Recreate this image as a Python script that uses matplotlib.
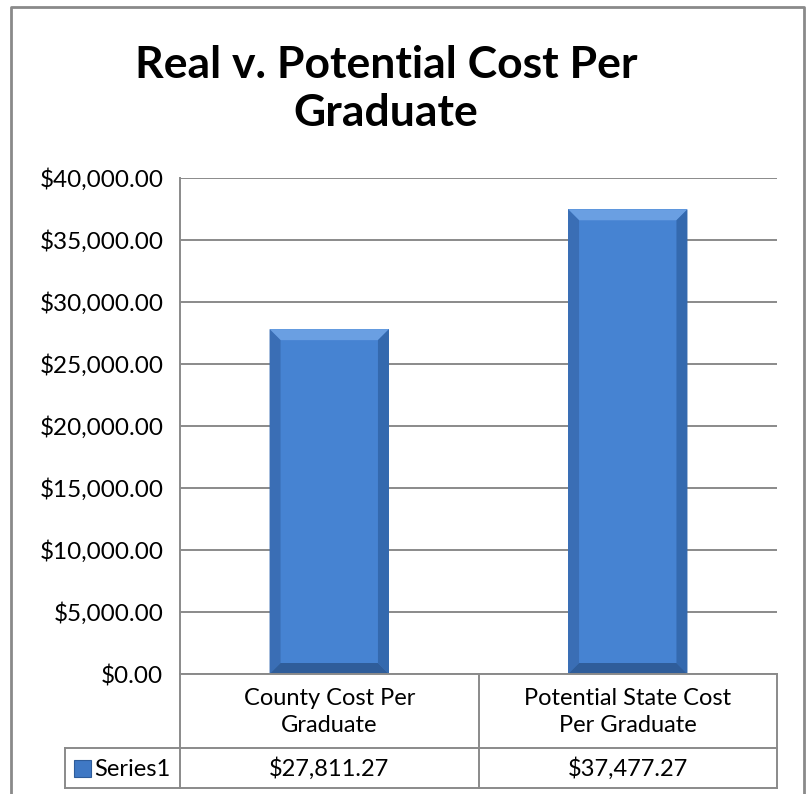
import numpy as np
import matplotlib.pyplot as plt
from matplotlib.lines import Line2D
from matplotlib.patches import Rectangle, Polygon

title = "Real v. Potential Cost Per\nGraduate"
categories = ["County Cost Per\nGraduate", "Potential State Cost\nPer Graduate"]
values = [27811.27, 37477.27]
value_labels = ["$27,811.27", "$37,477.27"]
series_name = "Series1"
y_ticks = [0, 5000, 10000, 15000, 20000, 25000, 30000, 35000, 40000]

W, H = 807, 794
plt.rcParams['font.family'] = ['Lato', 'DejaVu Sans']

fig = plt.figure(figsize=(W / 100, H / 100), dpi=100)
fig.patch.set_facecolor('white')


def fx(x):
    return x / W


def fy(y):
    return 1 - y / H


grey = '#8a8a8a'
left, right, top, bottom = 180, 777, 178, 674
ax = fig.add_axes([fx(left), fy(bottom), fx(right - left), (bottom - top) / H])

ax.set_xlim(-0.5, len(categories) - 0.5)
ax.set_ylim(0, 40000)

x = np.arange(len(categories))
bars = ax.bar(x, values, width=0.4, color='#4683D2', edgecolor='none', zorder=3)

# bevel: light top, darker sides and bottom
bx = 11 / (right - left) * len(categories)
by = 11 / (bottom - top) * 40000
for b in bars:
    x0, w, h = b.get_x(), b.get_width(), b.get_height()
    x1 = x0 + w
    faces = [
        ([(x0, h), (x1, h), (x1 - bx, h - by), (x0 + bx, h - by)], '#6A9FE2'),
        ([(x0, 0), (x0, h), (x0 + bx, h - by), (x0 + bx, by)], '#3A6EB5'),
        ([(x1, 0), (x1, h), (x1 - bx, h - by), (x1 - bx, by)], '#3469AE'),
        ([(x0, 0), (x1, 0), (x1 - bx, by), (x0 + bx, by)], '#2F5D9A'),
    ]
    for pts, col in faces:
        ax.add_patch(Polygon(pts, closed=True, facecolor=col, edgecolor='none', zorder=4))

ax.set_yticks(y_ticks)
ax.set_yticklabels(['${:,.2f}'.format(t) for t in y_ticks], fontsize=17.5)
ax.tick_params(axis='y', length=0, pad=12)
ax.set_xticks([])
ax.yaxis.grid(True, color=grey, lw=1.4)
ax.set_axisbelow(True)
for s in ax.spines.values():
    s.set_visible(False)

# data table below the axis
row1, row2 = 748, 788
legend_left = 65
mid = (left + right) / 2
lines = [
    ([left, left], [top, row2]),
    ([left, right], [bottom, bottom]),
    ([legend_left, right], [row1, row1]),
    ([legend_left, right], [row2, row2]),
    ([legend_left, legend_left], [row1, row2]),
    ([mid, mid], [bottom, row2]),
    ([right, right], [bottom, row2]),
]
for xs, ys in lines:
    fig.add_artist(Line2D([fx(v) for v in xs], [fy(v) for v in ys], color=grey, lw=1.4))

cell_w = (right - left) / len(categories)
for i, (cat, lab) in enumerate(zip(categories, value_labels)):
    cx = left + cell_w * (i + 0.5)
    fig.text(fx(cx), fy((bottom + row1) / 2 + 1), cat, ha='center', va='center',
             fontsize=17, linespacing=1.35)
    fig.text(fx(cx), fy((row1 + row2) / 2 + 1), lab, ha='center', va='center', fontsize=17)

fig.add_artist(Rectangle((fx(74), fy(777)), 17 / W, 17 / H, facecolor='#3F78C4',
                         edgecolor='#2E5C9A', lw=0.8))
fig.text(fx(94), fy((row1 + row2) / 2 + 1), series_name, ha='left', va='center', fontsize=17)

# title
fig.text(fx(386), fy(89), title, ha='center', va='center', fontsize=32,
         fontweight='bold', linespacing=1.25)

# outer frame
fig.add_artist(Line2D([fx(11), fx(11), fx(804), fx(804)], [0, fy(7), fy(7), 0],
                      color=grey, lw=2))

fig.savefig('out.png', dpi=100)
